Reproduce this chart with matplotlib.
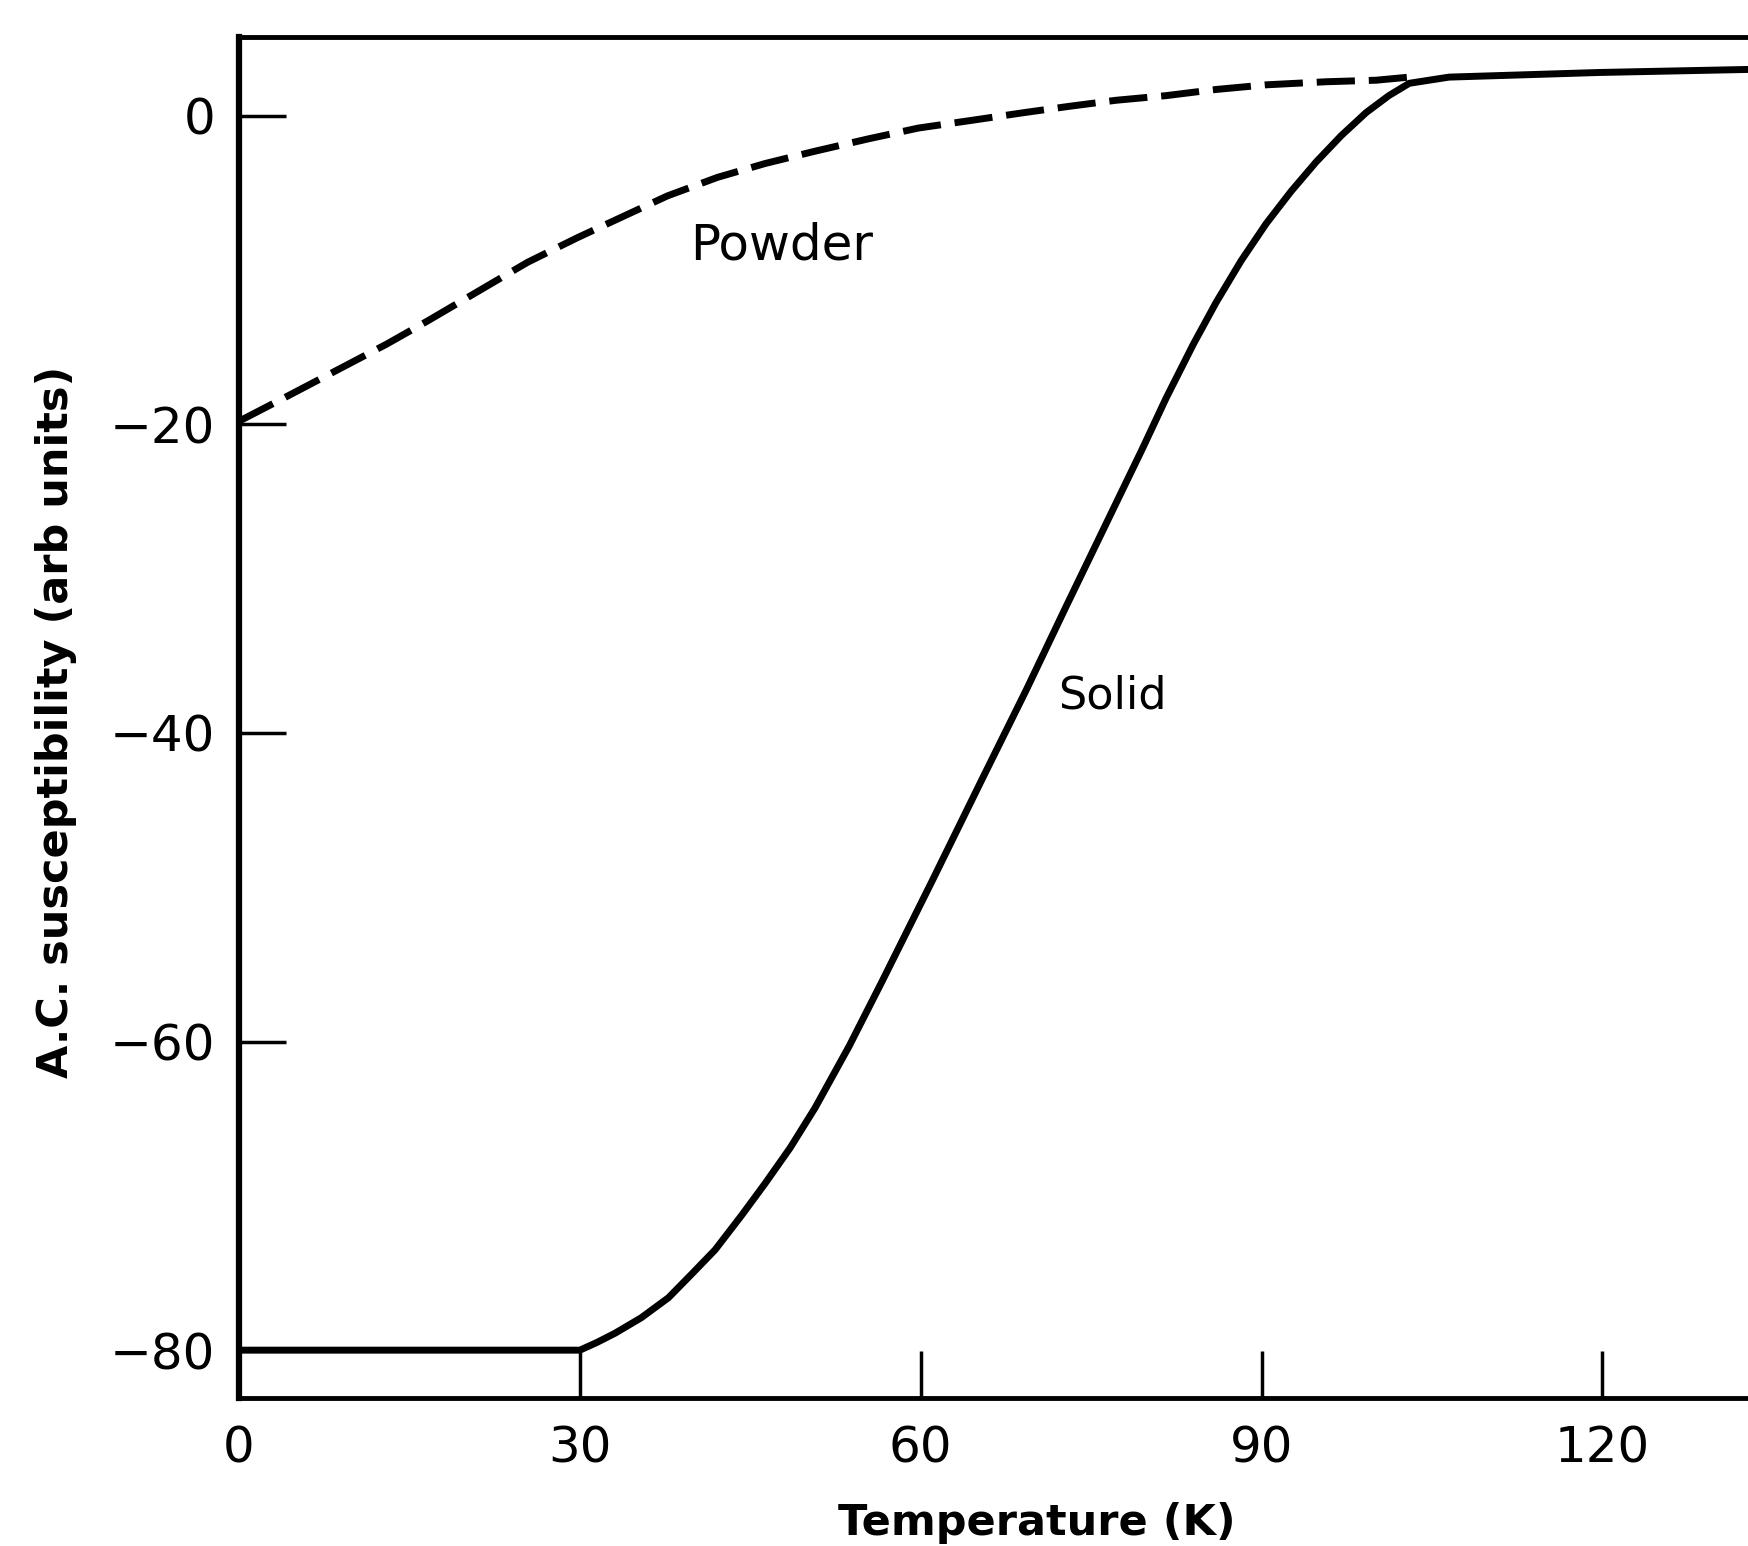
import matplotlib
matplotlib.use("Agg")
import matplotlib.pyplot as plt

# ---- data ----
solid_T = [0, 30, 31.5, 33.1, 35.4, 37.8, 39.8, 41.9, 44.2, 46.3, 48.5, 50.7, 53.7,
           56.6, 61.0, 65.4, 69.3, 72.8, 77.2, 79.5, 81.6, 84.0, 86.0, 88.2, 90.4,
           92.6, 94.8, 97.0, 99.2, 101.2, 103.0, 106.5, 119.7, 133.0]
solid_chi = [-80, -80, -79.5, -78.9, -77.9, -76.6, -75.1, -73.5, -71.3, -69.2, -66.9,
             -64.3, -60.3, -56.1, -49.6, -43.0, -37.2, -31.8, -25.1, -21.6, -18.3,
             -14.8, -12.1, -9.4, -7.0, -4.9, -3.0, -1.3, 0.2, 1.3, 2.1, 2.5, 2.8, 3.0]

powder_T = [0, 4.2, 8.6, 13.0, 16.6, 21.0, 25.4, 29.8, 33.6, 37.7, 42.1, 46.3, 50.7,
            55.4, 59.8, 64.5, 69.1, 73.0, 77.2, 81.6, 86.0, 90.4, 95.7, 100.1, 103.0]
powder_chi = [-19.8, -18.2, -16.5, -14.8, -13.3, -11.4, -9.5, -7.9, -6.6, -5.2, -4.0,
              -3.1, -2.3, -1.5, -0.8, -0.3, 0.2, 0.6, 1.0, 1.3, 1.7, 2.0, 2.2, 2.3, 2.5]

x_ticks = [0, 30, 60, 90, 120]
y_ticks = [0, -20, -40, -60, -80]
x_label = "Temperature (K)"
y_label = "A.C. susceptibility (arb units)"
labels = {"Powder": (47.8, -8.4), "Solid": (76.9, -37.6)}

# ---- figure ----
fig = plt.figure(figsize=(17.49, 15.46), dpi=100)
ax = fig.add_axes([0.13665, 0.09573, 0.86335, 0.88034])

ax.plot(solid_T, solid_chi, color="black", lw=5, solid_joinstyle="round",
        solid_capstyle="butt")
ax.plot(powder_T, powder_chi, color="black", lw=5, dashes=(5.5, 2.0),
        dash_joinstyle="round")

ax.set_xlim(0, 132.9)
ax.set_ylim(-83.1, 5.1)

ax.set_xticks(x_ticks)
ax.set_yticks(y_ticks)
ax.set_xticklabels([str(v) for v in x_ticks])
ax.set_yticklabels([("\u2212" + str(-v)) if v < 0 else str(v) for v in y_ticks])

ax.tick_params(axis="both", direction="in", length=34, width=2.5, labelsize=36,
               color="black", labelcolor="black")
ax.tick_params(axis="x", pad=19)
ax.tick_params(axis="y", pad=17)

ax.spines["left"].set_linewidth(4.5)
for side in ["top", "bottom"]:
    ax.spines[side].set_linewidth(3.5)
ax.spines["right"].set_visible(False)

ax.set_xlabel(x_label, fontsize=31, fontweight="bold")
ax.set_ylabel(y_label, fontsize=31, fontweight="bold")
ax.xaxis.label.set_va("center")
ax.yaxis.label.set_va("center")
ax.xaxis.set_label_coords(0.5285, -0.0918)
ax.yaxis.set_label_coords(-0.1212, 0.4967)

for txt, (tx, ty) in labels.items():
    ax.text(tx, ty, txt, fontsize=36 if txt == "Powder" else 32,
            ha="center", va="center", color="black")

fig.savefig("out.png", dpi=100, facecolor="white")
